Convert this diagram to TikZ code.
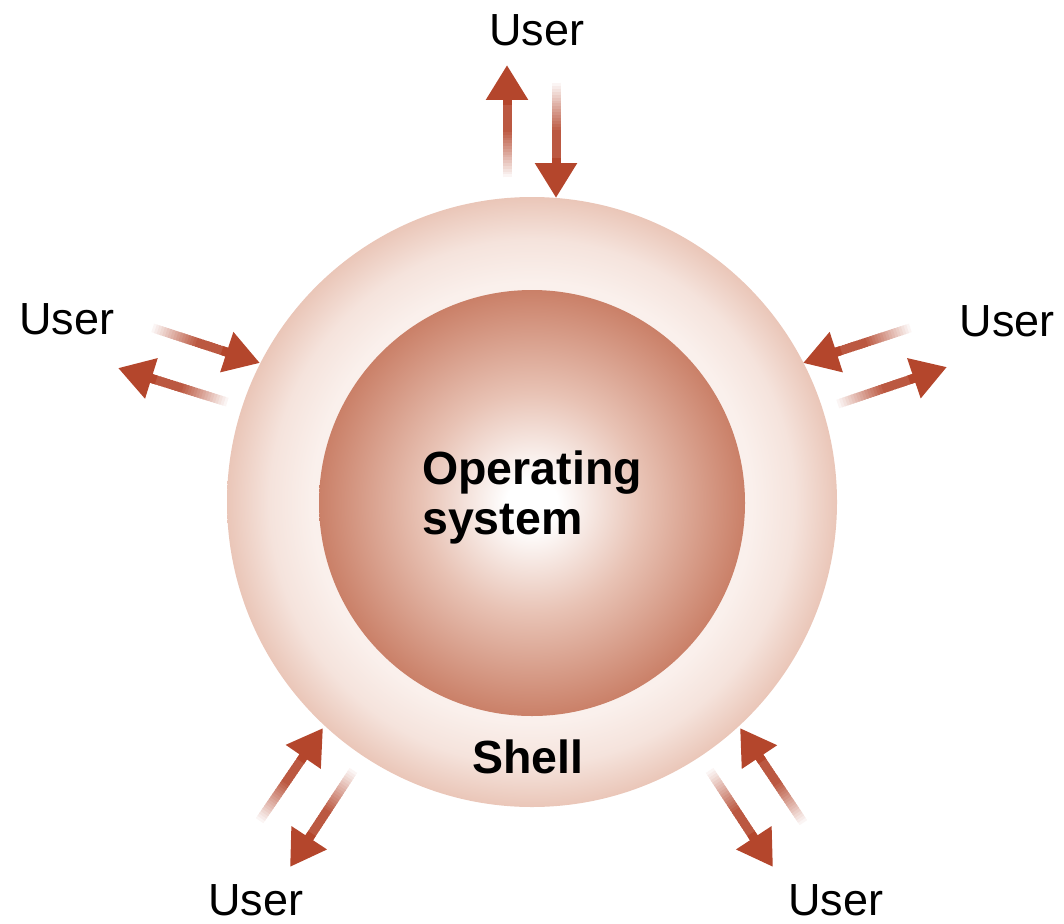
\documentclass[tikz,border=0pt]{standalone}
\usepackage{fontspec}
\setmainfont{Liberation Sans}
\usetikzlibrary{arrows.meta,calc}
\definecolor{arrowred}{HTML}{B4462C}
\definecolor{coreedge}{HTML}{CA8068}
\definecolor{coremid}{HTML}{E8C2B4}
\definecolor{shellrim}{HTML}{EAC6B8}
\definecolor{shellmid}{HTML}{F5E3DC}
\definecolor{shellin}{HTML}{FAF0EC}
\pgfdeclareradialshading{shellshade}{\pgfpointorigin}{color(0bp)=(shellin); color(18bp)=(shellin); color(21.5bp)=(shellmid); color(25bp)=(shellrim); color(50bp)=(shellrim)}
\pgfdeclareradialshading{coreshade}{\pgfpointorigin}{color(0bp)=(white); color(3bp)=(white); color(13bp)=(coremid); color(25bp)=(coreedge); color(50bp)=(coreedge)}
\tikzset{
  usertext/.style={font=\fontsize{45}{54}\selectfont, inner sep=0pt},
  boldtext/.style={font=\fontsize{46.5}{50}\selectfont\bfseries, inner sep=0pt},
  shaftseg/.style={line width=9pt, line cap=butt},
  headarrow/.style={arrowred, line width=9pt, -{Triangle[length=35pt,width=40pt]}},
}
\newcommand\fadearrow[2]{%
  \coordinate (#1b) at ($(#2)!30pt!(#1)$);
  \foreach \i in {0,...,29}{%
    \pgfmathsetmacro\pct{min(90,\i*90/17)}%
    \pgfmathsetmacro\nxt{min(1,(\i+1.6)/30)}%
    \draw[shaftseg, arrowred!\pct!white] ($(#1)!\i/30!(#1b)$) -- ($(#1)!\nxt!(#1b)$);
  }%
  \draw[headarrow] ($(#2)!40pt!(#1)$) -- (#2);
}
\begin{document}
\begin{tikzpicture}[x=1pt,y=-1pt]
\useasboundingbox (0,0) rectangle (1064,923);
% shell and core
\node[circle, minimum size=610pt, inner sep=0pt, shading=shellshade] (shell) at (532,502) {};
\node[circle, minimum size=426pt, inner sep=0pt, shading=coreshade] (core) at (532,503) {};
\node[boldtext, align=left] (os) at (532,497) {Operating\\system};
\node[boldtext] (shelltxt) at (528,757) {Shell};
% users
\node[usertext] (utop) at (537,30) {User};
\node[usertext] (uleft) at (67,319) {User};
\node[usertext] (uright) at (1007,321) {User};
\node[usertext] (ubl) at (256,900) {User};
\node[usertext] (ubr) at (836,900) {User};
% arrow end points
\coordinate (a1) at (507,180); \coordinate (a1t) at (507,65);
\coordinate (a2) at (556,80);  \coordinate (a2t) at (556,198);
\coordinate (b1) at (150,327); \coordinate (b1t) at (260,363);
\coordinate (b2) at (230,403); \coordinate (b2t) at (118,368);
\coordinate (c1) at (913,327); \coordinate (c1t) at (803,363);
\coordinate (c2) at (835,405); \coordinate (c2t) at (947,367);
\coordinate (d1) at (258,823); \coordinate (d1t) at (323,728);
\coordinate (d2) at (355,768); \coordinate (d2t) at (290,867);
\coordinate (e1) at (805,825); \coordinate (e1t) at (740,728);
\coordinate (e2) at (708,768); \coordinate (e2t) at (773,867);
\fadearrow{a1}{a1t}
\fadearrow{a2}{a2t}
\fadearrow{b1}{b1t}
\fadearrow{b2}{b2t}
\fadearrow{c1}{c1t}
\fadearrow{c2}{c2t}
\fadearrow{d1}{d1t}
\fadearrow{d2}{d2t}
\fadearrow{e1}{e1t}
\fadearrow{e2}{e2t}
\end{tikzpicture}
\end{document}
